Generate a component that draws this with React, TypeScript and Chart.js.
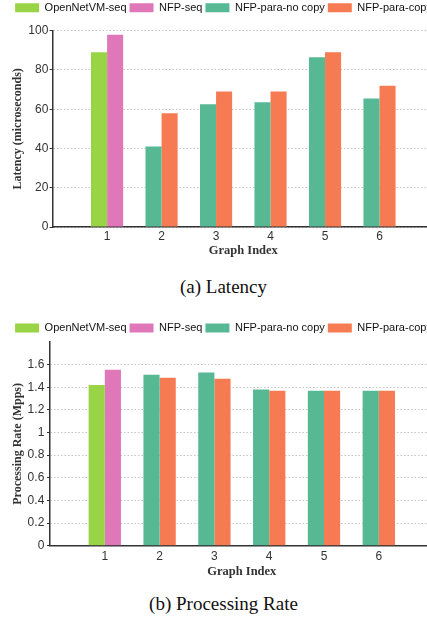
import React, { useEffect, useRef } from 'react';
import { Chart, registerables } from 'chart.js';

Chart.register(...registerables);

// ---------- data ----------
const graphIndex = [1, 2, 3, 4, 5, 6];
const seriesNames = ['OpenNetVM-seq', 'NFP-seq', 'NFP-para-no copy', 'NFP-para-copy'];
const seriesColors = ['#98d446', '#e077b8', '#56b994', '#f77b52'];

// (a) Latency (microseconds)
const latencyOpenNetVM = [89, null, null, null, null, null];
const latencyNfpSeq = [98, null, null, null, null, null];
const latencyNoCopy = [null, 41, 62.5, 63.5, 86.5, 65.5];
const latencyCopy = [null, 58, 69, 69, 89, 72];

// (b) Processing Rate (Mpps)
const rateOpenNetVM = [1.42, null, null, null, null, null];
const rateNfpSeq = [1.555, null, null, null, null, null];
const rateNoCopy = [null, 1.51, 1.53, 1.38, 1.37, 1.37];
const rateCopy = [null, 1.485, 1.475, 1.37, 1.37, 1.37];

const latencyTicks = { min: 0, max: 100, step: 20 };
const rateTicks = { min: 0, max: 1.8, step: 0.2, lastLabeled: 1.6 };

type PanelProps = {
  values: (number | null)[][];
  yMin: number;
  yMax: number;
  yStep: number;
  yLabelMax: number;
  yTitle: string;
  width: number;
  height: number;
  axisWidth: number;
  padRight: number;
  padTop: number;
  legendExtra: number;
  xAxisHeight: number;
  xTickPad: number;
  xTitlePadBottom: number;
  yTitlePad: number;
  yTickPad: number;
  fmt: (v: number) => string;
};

function BarPanel(p: PanelProps) {
  const ref = useRef<HTMLCanvasElement | null>(null);
  useEffect(() => {
    if (!ref.current) return;
    const tickFont = { family: 'Liberation Sans', size: 12 };
    const legendPatch = {
      id: 'legendPatch',
      beforeLayout(chart: any) {
        const lg = chart.legend;
        if (lg && !lg.__patched) {
          const orig = lg.fit;
          lg.fit = function () {
            const mw = this.maxWidth;
            this.maxWidth = 3000; // one row of entries, as in the figure
            orig.call(this);
            this.maxWidth = mw;
            this.width = mw;
            this.height += p.legendExtra;
          };
          lg.__patched = true;
        }
      },
      afterLayout(chart: any) {
        // legend spans the whole canvas width (the figure is centred on it)
        const lg = chart.legend;
        if (lg) {
          lg.left = 0;
          lg.right = chart.width;
          lg.width = chart.width;
        }
      },
    };
    const chart = new Chart(ref.current, {
      type: 'bar',
      data: {
        datasets: seriesNames.map((name, k) => ({
          label: name,
          data: graphIndex.map((x, i) => ({ x, y: p.values[k][i] })),
          backgroundColor: seriesColors[k],
          borderWidth: 0,
          skipNull: true,
          categoryPercentage: 0.59,
          barPercentage: 1,
        })) as any,
      },
      options: {
        animation: false,
        responsive: false,
        maintainAspectRatio: false,
        layout: { padding: { left: 0, right: p.padRight, top: p.padTop, bottom: 0 } },
        plugins: {
          legend: {
            position: 'top',
            align: 'center',
            labels: {
              boxWidth: 24,
              boxHeight: 9,
              padding: 3,
              color: '#111',
              font: { family: 'Liberation Sans', size: 11 },
            },
          },
          tooltip: { enabled: false },
        },
        scales: {
          x: {
            type: 'linear',
            min: 0,
            max: 7,
            offset: false,
            grid: { display: false, drawTicks: false, offset: false },
            border: { display: true, color: '#333', width: 1.5 },
            afterBuildTicks: (s: any) => {
              s.ticks = s.ticks.filter((t: any) => t.value >= 1 && t.value <= 6);
            },
            ticks: {
              stepSize: 1,
              autoSkip: false,
              maxRotation: 0,
              padding: p.xTickPad,
              color: '#333',
              font: tickFont,
              callback: (v: any) => String(v),
            },
            title: {
              display: true,
              text: 'Graph Index',
              color: '#333',
              font: { family: 'Liberation Serif', size: 12.5, weight: 'bold' },
              padding: { top: 0, bottom: p.xTitlePadBottom },
            },
            afterFit: (s: any) => {
              s.height = p.xAxisHeight;
            },
          },
          y: {
            type: 'linear',
            min: p.yMin,
            max: p.yMax,
            grid: {
              color: (ctx: any) =>
                ctx.tick && ctx.tick.value > p.yLabelMax + 1e-9 ? 'rgba(0,0,0,0)' : '#c4c4c4',
              tickColor: (ctx: any) =>
                ctx.tick && ctx.tick.value > p.yLabelMax + 1e-9 ? 'rgba(0,0,0,0)' : '#333',
              tickLength: 3,
              lineWidth: 1,
              drawTicks: true,
            },
            border: { display: true, color: '#333', width: 1.5, dash: [1.5, 2] },
            ticks: {
              stepSize: p.yStep,
              padding: p.yTickPad,
              color: '#333',
              font: tickFont,
              callback: (v: any) => (v > p.yLabelMax + 1e-9 ? '' : p.fmt(Number(v))),
            },
            title: {
              display: true,
              text: p.yTitle,
              color: '#333',
              font: { family: 'Liberation Serif', size: 12, weight: 'bold' },
              padding: { top: p.yTitlePad, bottom: 0 },
            },
            afterFit: (s: any) => {
              s.width = p.axisWidth;
            },
          },
        },
      } as any,
      plugins: [legendPatch],
    });
    return () => chart.destroy();
  }, []);
  return (
    <canvas
      ref={ref}
      width={p.width}
      height={p.height}
      style={{ display: 'block', width: p.width, height: p.height }}
    />
  );
}

const captionStyle: React.CSSProperties = {
  position: 'absolute',
  left: 0,
  width: 447,
  textAlign: 'center',
  fontFamily: '"Liberation Serif", serif',
  fontSize: 19,
  lineHeight: '22px',
  color: '#111',
  whiteSpace: 'nowrap',
};

export default function App() {
  return (
    <div
      style={{
        position: 'absolute',
        left: 0,
        top: 0,
        width: 427,
        height: 617,
        overflow: 'hidden',
        background: '#fff',
      }}
    >
      <div style={{ position: 'absolute', left: 0, top: 0 }}>
        <BarPanel
          values={[latencyOpenNetVM, latencyNfpSeq, latencyNoCopy, latencyCopy]}
          yMin={latencyTicks.min}
          yMax={latencyTicks.max}
          yStep={latencyTicks.step}
          yLabelMax={latencyTicks.max}
          yTitle="Latency (microseconds)"
          width={447}
          height={262}
          axisWidth={52.6}
          padRight={13}
          padTop={-0.8}
          legendExtra={7.5}
          xAxisHeight={35}
          xTickPad={2}
          xTitlePadBottom={3.5}
          yTitlePad={10.3}
          yTickPad={1.3}
          fmt={(v) => String(Math.round(v))}
        />
      </div>
      <div style={{ ...captionStyle, top: 275.5 }}>(a) Latency</div>
      <div style={{ position: 'absolute', left: 0, top: 315 }}>
        <BarPanel
          values={[rateOpenNetVM, rateNfpSeq, rateNoCopy, rateCopy]}
          yMin={rateTicks.min}
          yMax={rateTicks.max}
          yStep={rateTicks.step}
          yLabelMax={rateTicks.lastLabeled}
          yTitle="Processing Rate (Mpps)"
          width={447}
          height={265}
          axisWidth={50}
          padRight={13.4}
          padTop={4.5}
          legendExtra={-1.5}
          xAxisHeight={34.3}
          xTickPad={4}
          xTitlePadBottom={0.5}
          yTitlePad={11.1}
          yTickPad={2.7}
          fmt={(v) => String(Math.round(v * 10) / 10)}
        />
      </div>
      <div style={{ ...captionStyle, top: 593 }}>(b) Processing Rate</div>
    </div>
  );
}
